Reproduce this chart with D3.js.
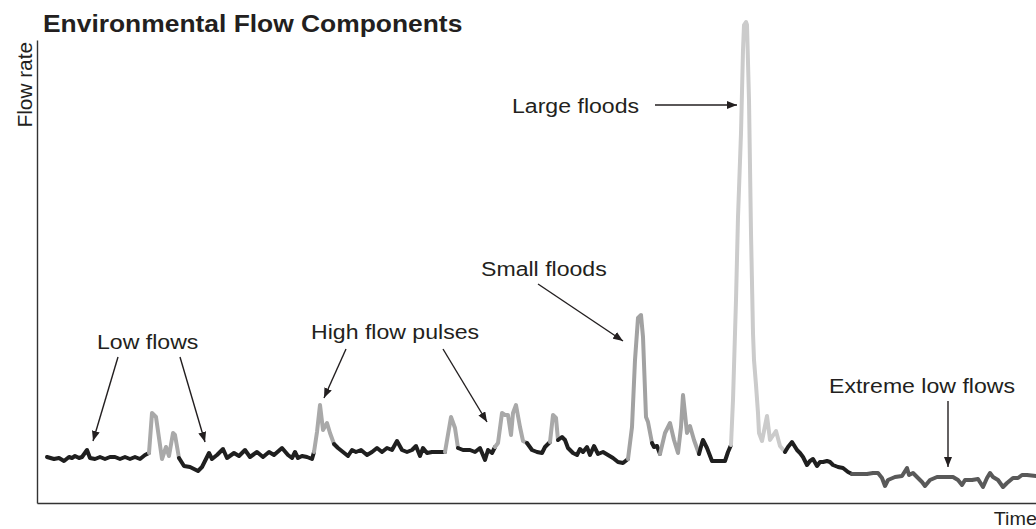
<!DOCTYPE html>
<html><head><meta charset="utf-8">
<script src="https://cdn.jsdelivr.net/npm/d3@7"></script>
<style>
body{margin:0;background:#fff}
svg{display:block}
text{font-family:"Liberation Sans",Arial,Helvetica,sans-serif;fill:#231f20}
</style>
</head><body>
<svg id="chart" width="1036" height="529"></svg>
<script>
// ---- data (time index, flow rate in arbitrary units) ----
const time = [10,17,22,27,32,35,38,42,45,50,53,58,63,68,73,78,83,88,93,98,103,108,112,
115,119,125,129,132,136,138,142,
147,153,161,165,172,175,180,186,190,197,202,208,213,220,226,232,237,245,251,255,258,261,265,270,275,277,
280,283,286,290,293,297,
301,306,311,315,319,324,330,335,340,345,350,355,360,365,370,375,379,383,386,390,395,406,408,
414,418,421,
426,433,438,443,448,451,455,458,
461,465,468,471,474,476,479,483,486,490,
495,500,505,508,513,
516,519,521,
525,528,531,536,540,543,546,550,553,557,561,566,571,576,581,586,591,
595,598,601,604,606,609,611,615,
617,620,623,
628,633,637,641,644,646,650,653,657,662,
665,666,670,675,679,685,688,691,694,
696,699,701,704,706,707,709,710,712,714,716,717,719,721,722,725,730,733,739,743,748,
751,755,760,763,766,770,773,776,780,783,786,790,793,796,801,806,811,815,
823,830,836,841,845,848,851,858,865,870,872,876,880,885,888,893,900,910,916,921,925,928,935,941,946,950,953,956,961,966,970,976,981,985,990,999];
const flow = [46,44,45,42,46,45,47,45,46,53,45,44,46,44,46,46,44,46,44,46,44,48,50,
90,86,44,56,47,70,68,45,
37,36,32,36,50,44,48,54,45,50,47,53,46,51,46,51,48,55,48,45,51,45,47,46,44,51,
71,98,73,80,70,59,
55,51,47,53,51,53,48,51,55,51,55,53,62,53,51,53,57,47,55,50,51,51,51,
86,75,55,
53,53,51,55,43,53,50,56,
60,90,88,88,68,90,98,76,62,60,
53,51,50,56,61,
88,85,63,
66,63,55,50,48,54,51,56,48,57,49,51,48,45,41,40,44,
76,143,185,188,166,86,81,60,
56,57,49,
70,80,63,50,76,108,70,77,63,49,
60,63,55,42,42,42,42,51,58,
103,203,286,370,453,478,481,478,403,270,170,143,118,90,70,62,87,63,72,57,51,
56,61,53,50,46,38,42,44,37,41,41,42,41,38,36,35,31,29,
29,29,30,30,25,17,23,26,27,35,28,30,26,21,17,23,26,26,26,23,18,23,23,24,16,25,30,26,23,16,20,25,25,28,28,27];

// component periods: boundaries (time) and the component of each period
const segmentBreaks = [10,112,142,277,297,408,421,458,490,513,521,591,615,623,662,694,748,815,999];
const segmentTypes  = ["low","pulse","low","pulse","low","pulse","low","pulse","low","pulse","low",
                       "small","low","small","low","large","low","extreme"];

const title = "Environmental Flow Components";
const yTitle = "Flow rate";
const xTitle = "Time";

// annotations: label, label position and arrow (in time / flow units)
const annotations = [
  {text:"Low flows",        lt:60,  lf:154, arrows:[[81,146,56,62],[143,146,168,61]]},
  {text:"High flow pulses", lt:274, lf:164, arrows:[[309,154,287,105],[406,154,450,81]]},
  {text:"Small floods",     lt:444, lf:227, arrows:[[501,219,586,162]]},
  {text:"Large floods",     lt:475, lf:390, arrows:[[618,398,700,398]]},
  {text:"Extreme low flows",lt:792, lf:110, arrows:[[911,102,911,36]]}
];

// ---- drawing ----
const colors = {low:"#1f1f1f", pulse:"#a9a9a9", small:"#a2a2a2", large:"#cbcbcb", extreme:"#595959"};
const svg = d3.select("#chart");
const x = d3.scaleLinear().domain([0,1000]).range([37,1037]);
const y = d3.scaleLinear().domain([0,463]).range([503,40]);

const pts = time.map((t,i)=>({t, v:flow[i]}));
const line = d3.line().x(d=>x(d.t)).y(d=>y(d.v));

// axes (no ticks)
const xAxis = d3.axisBottom(x).tickValues([]).tickSizeOuter(0);
const yAxis = d3.axisLeft(y).tickValues([]).tickSizeOuter(0);
svg.append("g").attr("transform","translate(0,503)").call(xAxis)
  .select(".domain").attr("stroke","#333").attr("stroke-width",1.4);
svg.append("g").attr("transform","translate(37,0)").call(yAxis)
  .select(".domain").attr("stroke","#333").attr("stroke-width",1.4);

// series segments
const segs = segmentTypes.map((type,i)=>({type, data: pts.filter(p=>p.t>=segmentBreaks[i] && p.t<=segmentBreaks[i+1])}));
svg.append("g").selectAll("path").data(segs).join("path")
  .attr("d", d=>line(d.data))
  .attr("fill","none")
  .attr("stroke", d=>colors[d.type])
  .attr("stroke-width",4)
  .attr("stroke-linejoin","round")
  .attr("stroke-linecap","round");

// arrow marker
svg.append("defs").append("marker")
  .attr("id","arrow").attr("viewBox","0 0 10 8").attr("refX",10).attr("refY",4)
  .attr("markerWidth",10).attr("markerHeight",8).attr("markerUnits","userSpaceOnUse")
  .attr("orient","auto")
  .append("path").attr("d","M0,0L10,4L0,8Z").attr("fill","#231f20");

const ann = svg.append("g");
annotations.forEach(a=>{
  a.arrows.forEach(r=>{
    ann.append("line")
      .attr("x1",x(r[0])).attr("y1",y(r[1])).attr("x2",x(r[2])).attr("y2",y(r[3]))
      .attr("stroke","#231f20").attr("stroke-width",1.4).attr("marker-end","url(#arrow)");
  });
  ann.append("text")
    .attr("transform",`translate(${x(a.lt)},${y(a.lf)}) scale(1.1,1)`)
    .attr("font-size",21).text(a.text);
});

// titles
svg.append("text").attr("transform","translate(43,32) scale(1.1,1)")
  .attr("font-size",24).attr("font-weight","bold").text(title);
svg.append("text").attr("transform","translate(32,42) rotate(-90) scale(1.04,1)")
  .attr("text-anchor","end").attr("font-size",20).text(yTitle);
svg.append("text").attr("transform","translate(1037,525) scale(1.1,1)")
  .attr("text-anchor","end").attr("font-size",18).text(xTitle);
</script>
</body></html>
